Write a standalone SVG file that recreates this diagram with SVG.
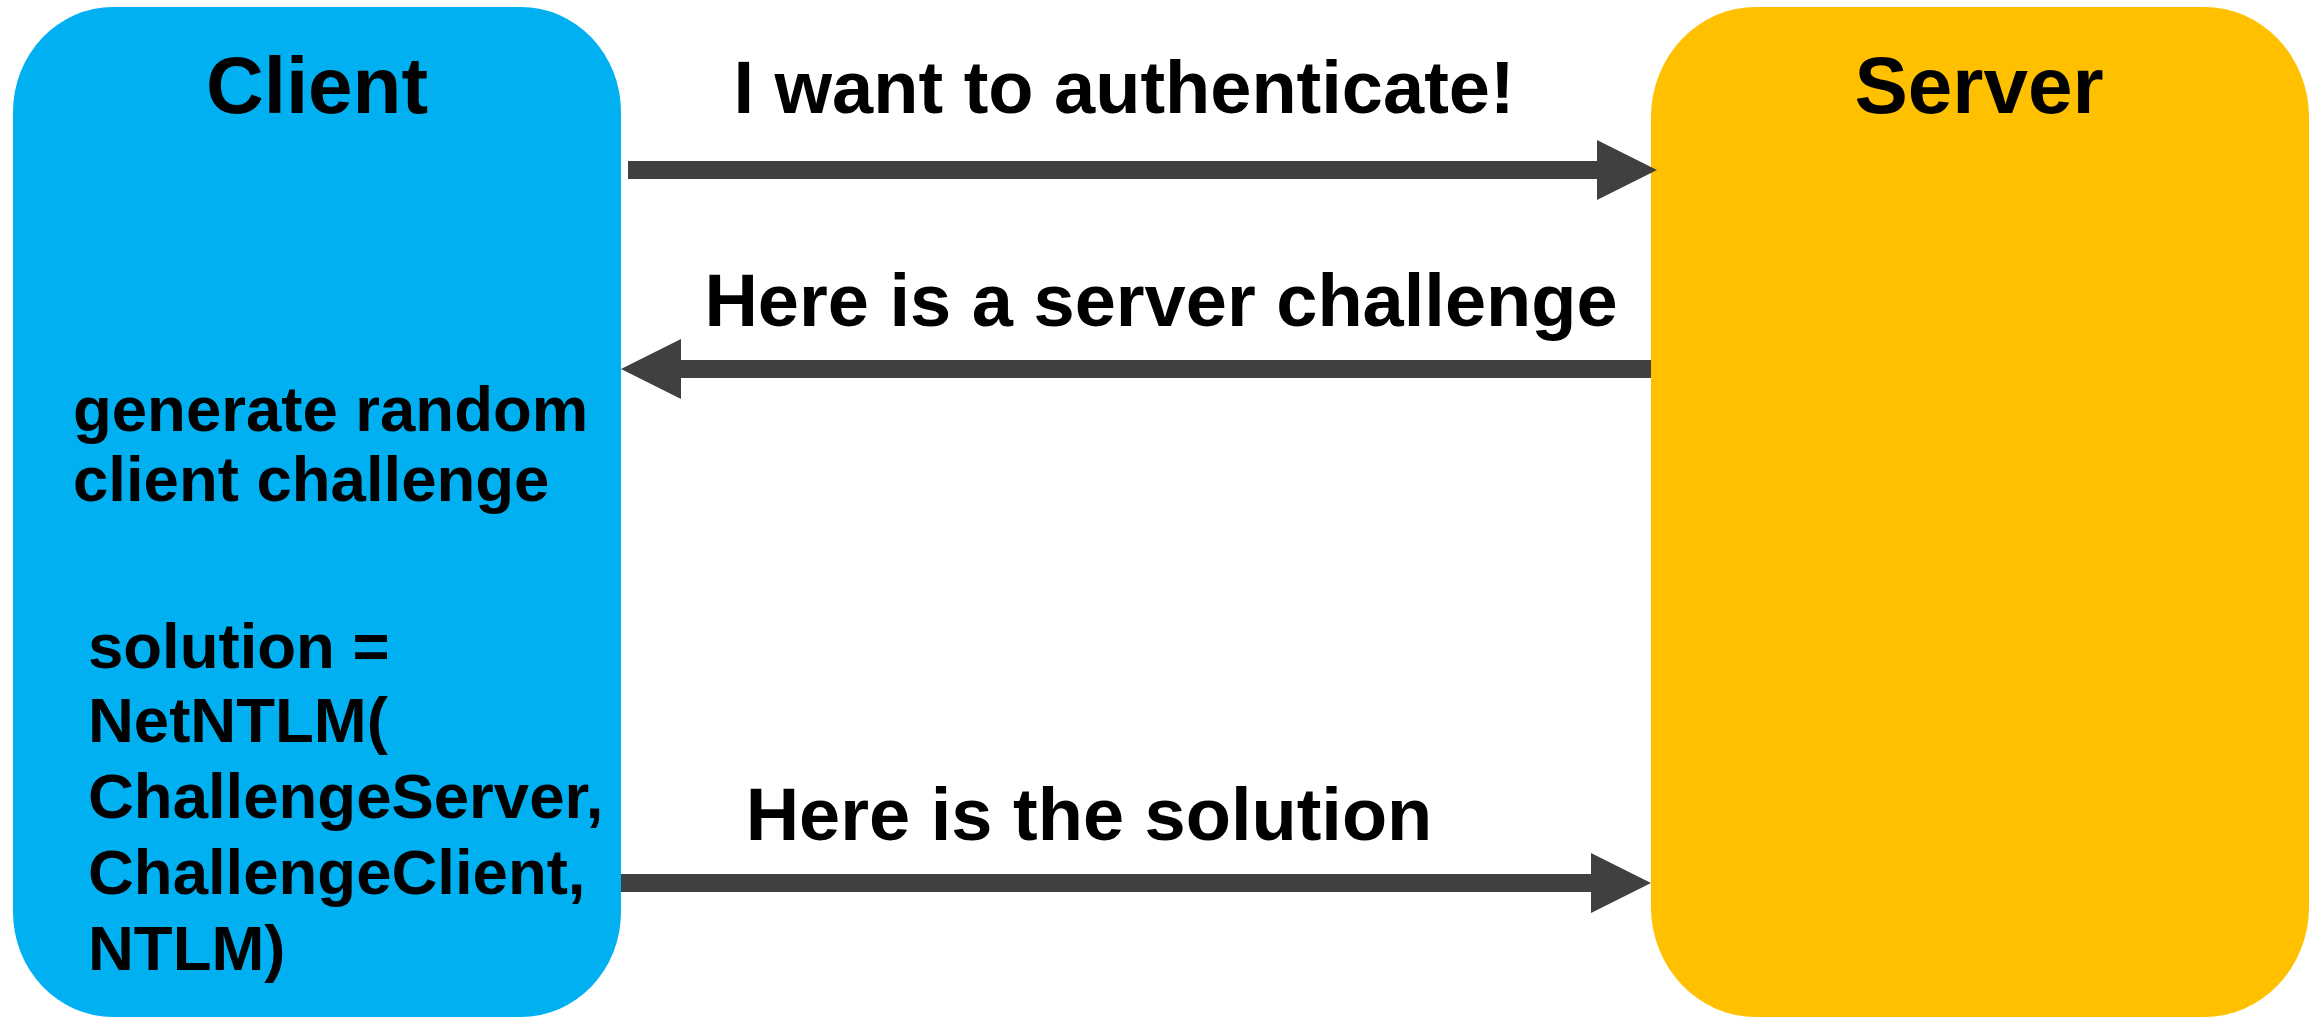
<svg xmlns="http://www.w3.org/2000/svg" width="2312" height="1019" viewBox="0 0 2312 1019">
<style>
text{font-family:"Liberation Sans",Arial,sans-serif;font-weight:bold;fill:#000}
.title{font-size:80px;text-anchor:middle}
.lbl{font-size:74px;text-anchor:middle}
.body{font-size:63.5px}
.conn{stroke:#404040;stroke-width:18;fill:none}
</style>
<defs>
<marker id="ah" markerUnits="userSpaceOnUse" markerWidth="60" markerHeight="60" viewBox="0 0 60 60" refX="5" refY="30" orient="auto">
<path d="M0,0 L60,30 L0,60 z" fill="#404040"/>
</marker>
</defs>
<rect width="2312" height="1019" fill="#fff"/>
<g id="client">
<rect x="13" y="7" width="608" height="1010" rx="100" ry="105" fill="#00B0F0"/>
<text class="title" x="317" y="113">Client</text>
<text class="body" x="73" y="431">generate random</text>
<text class="body" x="73" y="501">client challenge</text>
<text class="body" x="88" y="668">solution =</text>
<text class="body" x="88" y="742">NetNTLM(</text>
<text class="body" x="88" y="818">ChallengeServer,</text>
<text class="body" x="88" y="894">ChallengeClient,</text>
<text class="body" x="88" y="970">NTLM)</text>
</g>
<g id="server">
<rect x="1651" y="7" width="658" height="1010" rx="105" ry="110" fill="#FFC000"/>
<text class="title" x="1979" y="113">Server</text>
</g>
<g id="connectors">
<line class="conn" x1="628" y1="170" x2="1602" y2="170" marker-end="url(#ah)"/>
<line class="conn" x1="1651" y1="369" x2="676" y2="369" marker-end="url(#ah)"/>
<line class="conn" x1="621" y1="883" x2="1596" y2="883" marker-end="url(#ah)"/>
</g>
<g id="labels">
<text class="lbl" x="1124" y="113">I want to authenticate!</text>
<text class="lbl" x="1161" y="326">Here is a server challenge</text>
<text class="lbl" x="1089" y="840">Here is the solution</text>
</g>
</svg>
